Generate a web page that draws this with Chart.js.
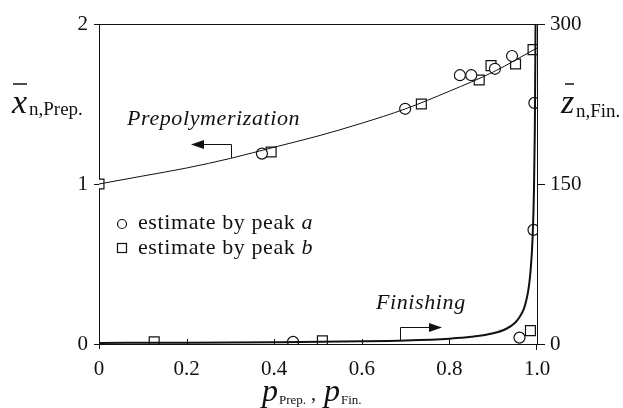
<!DOCTYPE html>
<html>
<head>
<meta charset="utf-8">
<script src="https://cdn.jsdelivr.net/npm/chart.js@4.4.1/dist/chart.umd.min.js"></script>
<style>
  body { margin: 0; background: #fff; }
  #wrap { width: 623px; height: 408px; }
</style>
</head>
<body>
<div id="wrap"><canvas id="chart" width="623" height="408"></canvas></div>
<script>
// axis ticks
const xTicks = [0, 0.2, 0.4, 0.6, 0.8, 1.0];
const leftTicks = [0, 1, 2];
const rightTicks = [0, 150, 300];

// prepolymerization model curve (left axis)
const prepCurveP = [0, 0.1, 0.2, 0.3, 0.4, 0.5, 0.6, 0.7, 0.8, 0.9, 1.0];
const prepCurveXn = [1.00, 1.05, 1.10, 1.16, 1.23, 1.30, 1.38, 1.47, 1.58, 1.70, 1.85];

// finishing model curve (right axis)
const finCurveP = [0, 0.2, 0.4, 0.6, 0.7, 0.8, 0.85, 0.9, 0.93, 0.95, 0.96, 0.97, 0.975, 0.98, 0.985, 0.99, 0.993, 0.995, 0.9967];
const finCurveZn = [1, 1.25, 1.7, 2.5, 3.3, 5, 6.7, 10, 14.3, 20, 25, 33, 40, 50, 67, 100, 143, 200, 300];

// measured points, prepolymerization
const prepPeakAP = [0.372, 0.699, 0.824, 0.850, 0.904, 0.943];
const prepPeakAX = [1.19, 1.47, 1.68, 1.68, 1.72, 1.80];
const prepPeakBP = [0.0, 0.393, 0.736, 0.868, 0.895, 0.951, 0.991];
const prepPeakBX = [1.00, 1.20, 1.50, 1.65, 1.74, 1.75, 1.84];

// measured points, finishing
const finPeakAP = [0.443, 0.960, 0.992, 0.994];
const finPeakAZ = [2, 6, 107, 226];
const finPeakBP = [0.126, 0.510, 0.985];
const finPeakBZ = [2, 3, 12.5];

const SERIF = '"Liberation Serif", "Times New Roman", serif';

function pts(xs, ys) {
    return xs.map((x, i) => ({ x: x, y: ys[i] }));
}

function markers(xs, ys, style, r, axis) {
    return {
        type: 'scatter',
        data: pts(xs, ys),
        yAxisID: axis,
        pointStyle: style,
        pointRadius: r,
        pointHoverRadius: r,
        pointBackgroundColor: '#fff',
        pointBorderColor: '#111',
        pointBorderWidth: 1.2
    };
}

function arrow(ctx, x0, y0, x1, y1, tipX, y) {
    // bracket from the curve, then a horizontal arrow
    ctx.beginPath();
    ctx.moveTo(x0, y0);
    ctx.lineTo(x1, y1);
    ctx.lineTo(tipX, y);
    ctx.stroke();
    const dir = Math.sign(tipX - x1);
    ctx.beginPath();
    ctx.moveTo(tipX + dir * 2, y);
    ctx.lineTo(tipX - dir * 11, y - 4.5);
    ctx.lineTo(tipX - dir * 11, y + 4.5);
    ctx.closePath();
    ctx.fill();
}

const decorations = {
    id: 'decorations',
    afterDraw(chart) {
        const ctx = chart.ctx;
        const a = chart.chartArea;
        const xs = chart.scales.x;
        ctx.save();
        ctx.strokeStyle = '#111';
        ctx.fillStyle = '#111';
        ctx.lineWidth = 1;

        // top frame
        ctx.beginPath();
        ctx.moveTo(a.left, a.top + 0.5);
        ctx.lineTo(a.right, a.top + 0.5);
        ctx.stroke();

        // inward x ticks, axes poke below the baseline
        ctx.beginPath();
        xTicks.forEach(v => {
            const px = Math.round(xs.getPixelForValue(v)) + 0.5;
            if (v > 0 && v < 1) {
                ctx.moveTo(px, a.bottom);
                ctx.lineTo(px, a.bottom - 5);
            }
        });
        ctx.moveTo(a.left + 0.5, a.bottom);
        ctx.lineTo(a.left + 0.5, a.bottom + 5);
        ctx.moveTo(a.right - 0.5, a.bottom);
        ctx.lineTo(a.right - 0.5, a.bottom + 6);
        ctx.stroke();

        ctx.textBaseline = 'alphabetic';
        ctx.textAlign = 'left';

        // left axis title: x-bar n,Prep.
        ctx.font = 'italic 34px ' + SERIF;
        ctx.fillText('x', 12, 113);
        ctx.lineWidth = 1.5;
        ctx.beginPath();
        ctx.moveTo(13, 84);
        ctx.lineTo(27, 84);
        ctx.stroke();
        ctx.font = '19px ' + SERIF;
        ctx.fillText('n,Prep.', 29, 115);

        // right axis title: z-bar n,Fin.
        ctx.font = 'italic 34px ' + SERIF;
        ctx.fillText('z', 561, 113);
        ctx.beginPath();
        ctx.moveTo(565, 84);
        ctx.lineTo(574, 84);
        ctx.stroke();
        ctx.font = '19px ' + SERIF;
        ctx.fillText('n,Fin.', 576, 117);

        // bottom axis title
        ctx.font = 'italic 32px ' + SERIF;
        ctx.fillText('p', 262, 401);
        ctx.fillText('p', 324, 401);
        ctx.font = '13px ' + SERIF;
        ctx.fillText('Prep.', 279, 404);
        ctx.fillText('Fin.', 341, 404);
        ctx.font = '20px ' + SERIF;
        ctx.fillText(',', 311, 400);

        // curve annotations, slightly spaced out
        ctx.lineWidth = 1;
        ctx.letterSpacing = '0.6px';
        ctx.font = 'italic 22px ' + SERIF;
        ctx.fillText('Prepolymerization', 127, 125);
        ctx.fillText('Finishing', 376, 309);
        arrow(ctx, 231.5, 158, 231.5, 144.5, 193, 144.5);
        arrow(ctx, 400.5, 340, 400.5, 327.5, 440, 327.5);

        // legend
        ctx.lineWidth = 1.2;
        ctx.beginPath();
        ctx.arc(122, 224, 4.5, 0, Math.PI * 2);
        ctx.stroke();
        ctx.strokeRect(117.5, 243.5, 9, 9);
        ctx.font = '22px ' + SERIF;
        const t = 'estimate by peak ';
        ctx.fillText(t, 138, 229);
        ctx.fillText(t, 138, 254);
        const w = ctx.measureText(t).width;
        ctx.font = 'italic 22px ' + SERIF;
        ctx.fillText('a', 138 + w, 229);
        ctx.fillText('b', 138 + w, 254);
        ctx.restore();
    }
};

new Chart(document.getElementById('chart'), {
    type: 'line',
    data: {
        datasets: [
            {
                data: pts(prepCurveP, prepCurveXn),
                yAxisID: 'y',
                borderColor: '#111',
                borderWidth: 1,
                pointRadius: 0,
                cubicInterpolationMode: 'monotone'
            },
            {
                data: pts(finCurveP, finCurveZn),
                yAxisID: 'y2',
                borderColor: '#111',
                borderWidth: 2,
                pointRadius: 0,
                cubicInterpolationMode: 'monotone'
            },
            markers(prepPeakAP, prepPeakAX, 'circle', 5.5, 'y'),
            markers(prepPeakBP, prepPeakBX, 'rect', 7, 'y'),
            markers(finPeakAP, finPeakAZ, 'circle', 5.5, 'y2'),
            markers(finPeakBP, finPeakBZ, 'rect', 7, 'y2')
        ]
    },
    options: {
        responsive: false,
        animation: false,
        events: [],
        layout: { padding: { top: 24, left: 0, right: 0, bottom: 0 } },
        plugins: { legend: { display: false }, tooltip: { enabled: false } },
        scales: {
            x: {
                type: 'linear',
                min: 0,
                max: 1,
                afterBuildTicks: s => { s.ticks = xTicks.map(v => ({ value: v })); },
                afterFit: s => { s.height = 64; },
                grid: { display: false, drawTicks: false },
                border: { display: true, color: '#111', width: 1 },
                ticks: {
                    padding: 13,
                    color: '#111',
                    font: { family: SERIF, size: 21 },
                    callback: v => (v === 0 ? '0' : v.toFixed(1))
                }
            },
            y: {
                type: 'linear',
                position: 'left',
                min: 0,
                max: 2,
                afterBuildTicks: s => { s.ticks = leftTicks.map(v => ({ value: v })); },
                afterFit: s => { s.width = 99; },
                grid: { drawOnChartArea: false, tickLength: 5, color: '#111' },
                border: { display: true, color: '#111', width: 1 },
                ticks: { padding: 6, color: '#111', font: { family: SERIF, size: 21 } }
            },
            y2: {
                type: 'linear',
                position: 'right',
                min: 0,
                max: 300,
                afterBuildTicks: s => { s.ticks = rightTicks.map(v => ({ value: v })); },
                afterFit: s => { s.width = 86; },
                grid: { drawOnChartArea: false, tickLength: 8, color: '#111' },
                border: { display: true, color: '#111', width: 1 },
                ticks: { padding: 5, color: '#111', font: { family: SERIF, size: 21 } }
            }
        }
    },
    plugins: [decorations]
});
</script>
</body>
</html>
